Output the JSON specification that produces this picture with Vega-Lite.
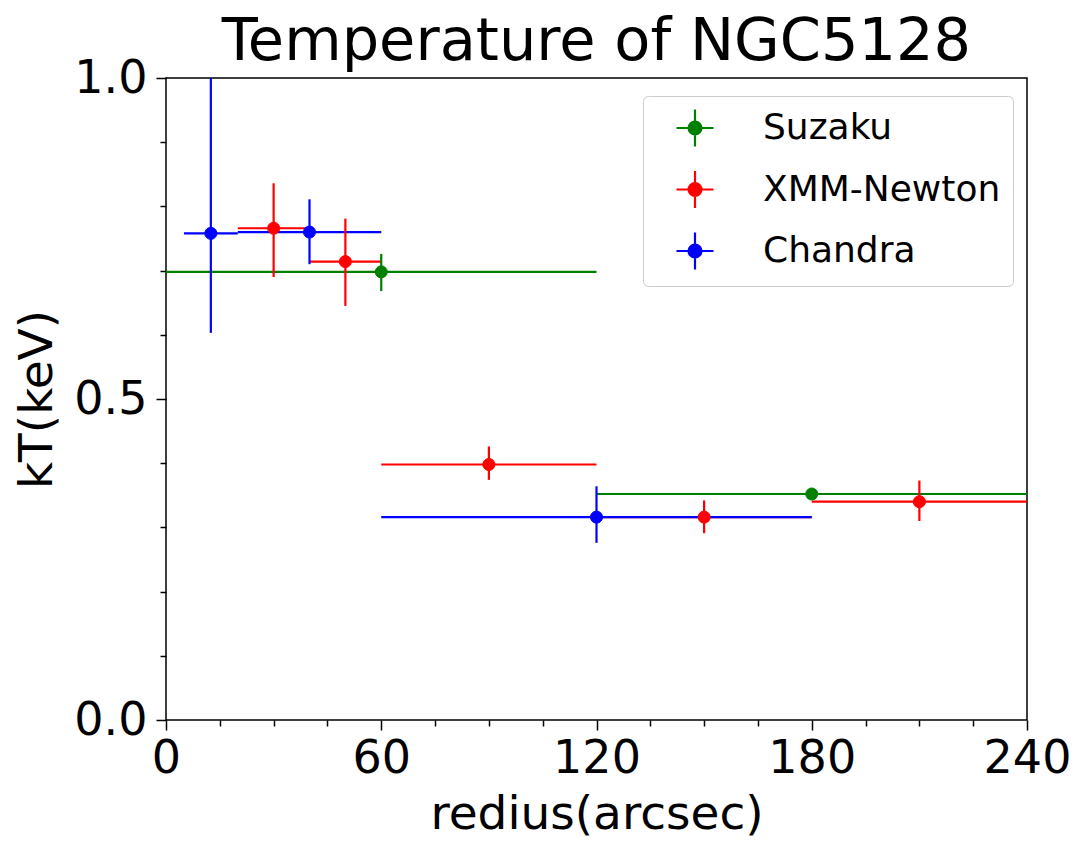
{
  "$schema": "https://vega.github.io/schema/vega-lite/v6.json",
  "width": 861,
  "height": 642,
  "autosize": {"type": "none"},
  "padding": {"left": 166, "top": 78, "right": 55, "bottom": 121},
  "background": "white",
  "config": {
    "view": {"stroke": "black", "strokeWidth": 1.5},
    "font": "DejaVu Sans",
    "axis": {"grid": false, "domain": false, "tickColor": "black", "tickWidth": 1.5, "labelColor": "black", "titleColor": "black", "labelFont": "DejaVu Sans", "titleFont": "DejaVu Sans", "titleFontWeight": "normal"}
  },
  "title": {"text": "Temperature of NGC5128", "fontSize": 59, "font": "DejaVu Sans", "fontWeight": "normal", "color": "black", "anchor": "middle", "frame": "group", "offset": -64, "baseline": "alphabetic"},
  "data": {"values": [
    {"inst": "Suzaku", "r": 60, "xlo": 0, "xhi": 120, "kT": 0.698, "lo": 0.668, "hi": 0.726},
    {"inst": "Suzaku", "r": 180, "xlo": 120, "xhi": 240, "kT": 0.352, "lo": 0.349, "hi": 0.355},
    {"inst": "XMM-Newton", "r": 30, "xlo": 20, "xhi": 40, "kT": 0.766, "lo": 0.690, "hi": 0.836},
    {"inst": "XMM-Newton", "r": 50, "xlo": 40, "xhi": 60, "kT": 0.714, "lo": 0.645, "hi": 0.781},
    {"inst": "XMM-Newton", "r": 90, "xlo": 60, "xhi": 120, "kT": 0.398, "lo": 0.374, "hi": 0.426},
    {"inst": "XMM-Newton", "r": 150, "xlo": 120, "xhi": 180, "kT": 0.316, "lo": 0.291, "hi": 0.342},
    {"inst": "XMM-Newton", "r": 210, "xlo": 180, "xhi": 240, "kT": 0.340, "lo": 0.310, "hi": 0.373},
    {"inst": "Chandra", "r": 12.5, "xlo": 5, "xhi": 20, "kT": 0.758, "lo": 0.603, "hi": 1.0},
    {"inst": "Chandra", "r": 40, "xlo": 20, "xhi": 60, "kT": 0.760, "lo": 0.710, "hi": 0.811},
    {"inst": "Chandra", "r": 120, "xlo": 60, "xhi": 180, "kT": 0.316, "lo": 0.276, "hi": 0.364}
  ]},
  "layer": [
    {
      "mark": {"type": "rule", "strokeWidth": 2.2, "clip": true},
      "encoding": {
        "x": {"field": "xlo", "type": "quantitative", "scale": {"domain": [0, 240], "nice": false, "zero": false},
              "axis": {"orient": "bottom", "values": [0, 60, 120, 180, 240], "title": "redius(arcsec)", "labelFontSize": 46, "titleFontSize": 47, "tickSize": 10, "labelPadding": 6, "titlePadding": 10, "labelFlush": false, "labelOverlap": false}},
        "x2": {"field": "xhi"},
        "y": {"field": "kT", "type": "quantitative", "scale": {"domain": [0, 1], "nice": false, "zero": false},
              "axis": {"orient": "left", "values": [0, 0.5, 1], "format": ".1f", "title": "kT(keV)", "labelFontSize": 46, "titleFontSize": 47, "tickSize": 10, "labelPadding": 9, "titlePadding": 12, "labelFlush": false, "labelOverlap": false}},
        "stroke": {"field": "inst", "type": "nominal", "sort": null,
                   "scale": {"domain": ["Suzaku", "XMM-Newton", "Chandra"], "range": ["#008000", "#ff0000", "#0000ff"]},
                   "legend": {"orient": "none", "legendX": 477, "legendY": 18, "title": null, "labelFontSize": 36, "labelFont": "DejaVu Sans", "labelColor": "black", "labelLimit": 500, "symbolType": "M-1,0H1M0,-1V1M-0.35,0A0.35,0.35 0 1,1 0.35,0A0.35,0.35 0 1,1 -0.35,0Z", "symbolSize": 1369, "symbolStrokeWidth": 2.2, "symbolOffset": 20, "labelOffset": 48, "padding": 12, "rowPadding": 15.5, "strokeColor": "#cccccc", "fillColor": "white", "cornerRadius": 5}}
      }
    },
    {
      "mark": {"type": "rule", "strokeWidth": 2.2, "clip": true},
      "encoding": {
        "x": {"field": "r", "type": "quantitative", "scale": {"domain": [0, 240], "nice": false, "zero": false},
              "axis": {"orient": "bottom", "values": [15, 30, 45, 75, 90, 105, 135, 150, 165, 195, 210, 225], "labels": false, "title": null, "tickSize": 6}},
        "y": {"field": "lo", "type": "quantitative", "scale": {"domain": [0, 1], "nice": false, "zero": false},
              "axis": {"orient": "left", "values": [0.1, 0.2, 0.3, 0.4, 0.6, 0.7, 0.8, 0.9], "labels": false, "title": null, "tickSize": 6}},
        "y2": {"field": "hi"},
        "stroke": {"field": "inst", "type": "nominal", "sort": null,
                   "scale": {"domain": ["Suzaku", "XMM-Newton", "Chandra"], "range": ["#008000", "#ff0000", "#0000ff"]},
                   "legend": {"orient": "none", "legendX": 477, "legendY": 18, "title": null, "labelFontSize": 36, "labelFont": "DejaVu Sans", "labelColor": "black", "labelLimit": 500, "symbolType": "M-1,0H1M0,-1V1M-0.35,0A0.35,0.35 0 1,1 0.35,0A0.35,0.35 0 1,1 -0.35,0Z", "symbolSize": 1369, "symbolStrokeWidth": 2.2, "symbolOffset": 20, "labelOffset": 48, "padding": 12, "rowPadding": 15.5, "strokeColor": "#cccccc", "fillColor": "white", "cornerRadius": 5}}
      }
    },
    {
      "mark": {"type": "point", "filled": true, "size": 145, "opacity": 1, "strokeWidth": 1, "clip": true},
      "encoding": {
        "x": {"field": "r", "type": "quantitative", "scale": {"domain": [0, 240], "nice": false, "zero": false}, "axis": null},
        "y": {"field": "kT", "type": "quantitative", "scale": {"domain": [0, 1], "nice": false, "zero": false}, "axis": null},
        "fill": {"field": "inst", "type": "nominal", "sort": null,
                 "scale": {"domain": ["Suzaku", "XMM-Newton", "Chandra"], "range": ["#008000", "#ff0000", "#0000ff"]},
                 "legend": {"orient": "none", "legendX": 477, "legendY": 18, "title": null, "labelFontSize": 36, "labelFont": "DejaVu Sans", "labelColor": "black", "labelLimit": 500, "symbolType": "M-1,0H1M0,-1V1M-0.35,0A0.35,0.35 0 1,1 0.35,0A0.35,0.35 0 1,1 -0.35,0Z", "symbolSize": 1369, "symbolStrokeWidth": 2.2, "symbolOffset": 20, "labelOffset": 48, "padding": 12, "rowPadding": 15.5, "strokeColor": "#cccccc", "fillColor": "white", "cornerRadius": 5}},
        "stroke": {"field": "inst", "type": "nominal", "sort": null,
                   "scale": {"domain": ["Suzaku", "XMM-Newton", "Chandra"], "range": ["#008000", "#ff0000", "#0000ff"]},
                   "legend": {"orient": "none", "legendX": 477, "legendY": 18, "title": null, "labelFontSize": 36, "labelFont": "DejaVu Sans", "labelColor": "black", "labelLimit": 500, "symbolType": "M-1,0H1M0,-1V1M-0.35,0A0.35,0.35 0 1,1 0.35,0A0.35,0.35 0 1,1 -0.35,0Z", "symbolSize": 1369, "symbolStrokeWidth": 2.2, "symbolOffset": 20, "labelOffset": 48, "padding": 12, "rowPadding": 15.5, "strokeColor": "#cccccc", "fillColor": "white", "cornerRadius": 5}}
      }
    }
  ],
  "resolve": {"axis": {"x": "independent", "y": "independent"}}
}
